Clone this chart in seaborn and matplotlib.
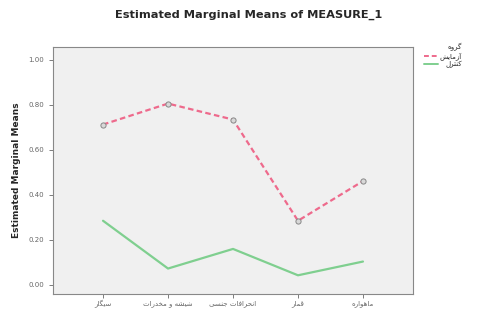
import matplotlib
matplotlib.use("Agg")
import matplotlib.pyplot as plt
import seaborn as sns
import pandas as pd

# categories (persian labels)
categories = ["سیگار", "شیشه و مخدرات", "انحرافات جنسی", "قمار", "ماهواره"]
groups = ["آزمایش", "کنترل"]
legend_title = "گروه"
experiment = [0.712, 0.805, 0.734, 0.285, 0.461]
control = [0.285, 0.073, 0.160, 0.043, 0.104]
yticks = [0.0, 0.2, 0.4, 0.6, 0.8, 1.0]

# presentation forms: isolated, final, initial, medial
FORMS = {
    "ا": (0xFE8D, 0xFE8E), "آ": (0xFE81, 0xFE82), "د": (0xFEA9, 0xFEAA),
    "ر": (0xFEAD, 0xFEAE), "ز": (0xFEAF, 0xFEB0), "و": (0xFEED, 0xFEEE),
    "ت": (0xFE95, 0xFE96, 0xFE97, 0xFE98), "ج": (0xFE9D, 0xFE9E, 0xFE9F, 0xFEA0),
    "ح": (0xFEA1, 0xFEA2, 0xFEA3, 0xFEA4), "خ": (0xFEA5, 0xFEA6, 0xFEA7, 0xFEA8),
    "س": (0xFEB1, 0xFEB2, 0xFEB3, 0xFEB4), "ش": (0xFEB5, 0xFEB6, 0xFEB7, 0xFEB8),
    "ف": (0xFED1, 0xFED2, 0xFED3, 0xFED4), "ق": (0xFED5, 0xFED6, 0xFED7, 0xFED8),
    "ل": (0xFEDD, 0xFEDE, 0xFEDF, 0xFEE0), "م": (0xFEE1, 0xFEE2, 0xFEE3, 0xFEE4),
    "ن": (0xFEE5, 0xFEE6, 0xFEE7, 0xFEE8), "ه": (0xFEE9, 0xFEEA, 0xFEEB, 0xFEEC),
    "ی": (0xFBFC, 0xFBFD, 0xFBFE, 0xFBFF), "ک": (0xFB8E, 0xFB8F, 0xFB90, 0xFB91),
    "گ": (0xFB92, 0xFB93, 0xFB94, 0xFB95),
}


def rtl(s):
    # no bidi/shaping in matplotlib, so do a small one by hand
    out = []
    for i, ch in enumerate(s):
        f = FORMS.get(ch)
        if f is None:
            out.append(ch)
            continue
        prev = s[i - 1] if i > 0 else ""
        nxt = s[i + 1] if i + 1 < len(s) else ""
        jp = prev in FORMS and len(FORMS[prev]) == 4
        jn = len(f) == 4 and nxt in FORMS
        if jp and jn:
            out.append(chr(f[3]))
        elif jn:
            out.append(chr(f[2]))
        elif jp:
            out.append(chr(f[1]))
        else:
            out.append(chr(f[0]))
    return "".join(out)[::-1]


df = pd.DataFrame({
    "x": list(range(len(categories))) * 2,
    "mean": experiment + control,
    "group": [groups[0]] * 5 + [groups[1]] * 5,
})

sns.set_style("ticks")
plt.rcParams["font.family"] = ["DejaVu Sans"]

fig = plt.figure(figsize=(4.97, 3.12), dpi=100)
ax = fig.add_axes([53 / 497, 1 - 294 / 312, 360 / 497, 247 / 312])
ax.set_facecolor("#f0f0f0")

palette = {groups[0]: "#ee6a8c", groups[1]: "#7fcf8f"}
sns.lineplot(data=df, x="x", y="mean", hue="group", style="group",
             dashes={groups[0]: (2.5, 1.5), groups[1]: ""},
             palette=palette, linewidth=1.6, ax=ax, legend=False)
sns.scatterplot(data=df[df.group == groups[0]], x="x", y="mean",
                color="#d8d8d8", edgecolor="#888888", s=14, linewidth=0.7,
                ax=ax, legend=False, zorder=5)

ax.set_xlim(-0.77, 4.77)
ax.set_ylim(-0.04, 1.056)
ax.set_yticks(yticks)
ax.set_yticklabels([f"{v:.2f}" for v in yticks], fontsize=5, color="#444444")
ax.set_xticks(range(len(categories)))
ax.set_xticklabels([rtl(c) for c in categories], fontsize=5, color="#333333")
ax.tick_params(length=3, width=0.6, colors="#666666")
ax.tick_params(axis="x", pad=1.5)
ax.set_xlabel("")
ax.set_ylabel("Estimated Marginal Means", fontsize=6.5, fontweight="bold", labelpad=5)
for sp in ax.spines.values():
    sp.set_color("#888888")
    sp.set_linewidth(0.8)

fig.text(0.5, 1 - 15 / 312, "Estimated Marginal Means of MEASURE_1",
         ha="center", va="center", fontsize=8.2, fontweight="bold")

# legend out on the right
fig.text(462 / 497, 1 - 47 / 312, rtl(legend_title), ha="right", va="center", fontsize=5)
fig.lines.append(plt.Line2D([424 / 497, 438 / 497], [1 - 56 / 312] * 2, transform=fig.transFigure,
                            color=palette[groups[0]], linestyle=(0, (2.5, 1.5)), linewidth=1.4))
fig.text(462 / 497, 1 - 56 / 312, rtl(groups[0]), ha="right", va="center", fontsize=5)
fig.lines.append(plt.Line2D([424 / 497, 438 / 497], [1 - 64 / 312] * 2, transform=fig.transFigure,
                            color=palette[groups[1]], linewidth=1.4))
fig.text(462 / 497, 1 - 64 / 312, rtl(groups[1]), ha="right", va="center", fontsize=5)

fig.savefig("out.png", dpi=100)
